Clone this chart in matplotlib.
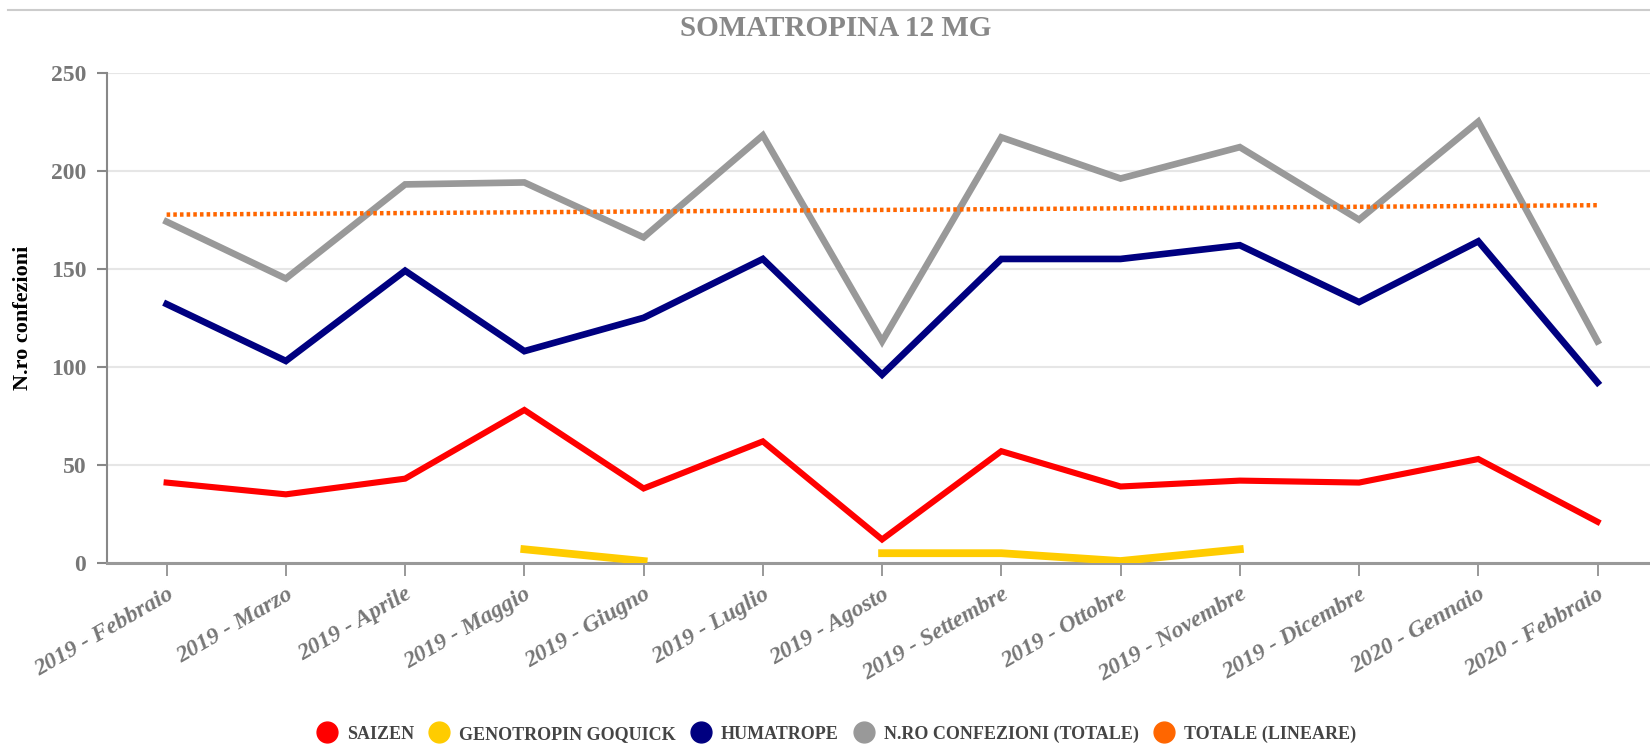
"""SOMATROPINA 12 MG: monthly packs per product, Feb 2019 - Feb 2020."""

import matplotlib

matplotlib.use("Agg")
import matplotlib.pyplot as plt
from matplotlib.lines import Line2D

months = [
    "2019 - Febbraio", "2019 - Marzo", "2019 - Aprile", "2019 - Maggio",
    "2019 - Giugno", "2019 - Luglio", "2019 - Agosto", "2019 - Settembre",
    "2019 - Ottobre", "2019 - Novembre", "2019 - Dicembre", "2020 - Gennaio",
    "2020 - Febbraio",
]
saizen = [41, 35, 43, 78, 38, 62, 12, 57, 39, 42, 41, 53, 21]
genotropin = [None, None, None, 7, 1, None, 5, 5, 1, 7, None, None, None]
humatrope = [132, 103, 149, 108, 125, 155, 96, 155, 155, 162, 133, 164, 92]
totale = [174, 145, 193, 194, 166, 218, 113, 217, 196, 212, 175, 225, 113]
# linear trendline of the total: values at first and last month
trend_x = [0, 12]
trend_y = [177.6, 182.4]

C_SAIZEN = "#ff0000"
C_GENO = "#ffcc00"
C_HUMA = "#000080"
C_TOT = "#999999"
C_TREND = "#ff6600"
TXT = "#777777"

plt.rcParams["font.family"] = ["Liberation Serif", "DejaVu Serif"]

fig = plt.figure(figsize=(16.5, 7.44), dpi=100)
ax = fig.add_axes([107 / 1650, 181 / 744, 1 - 107 / 1650, (563 - 72.6) / 744])

x = list(range(len(months)))
geno = [float("nan") if v is None else v for v in genotropin]

ax.plot(x, saizen, color=C_SAIZEN, lw=4.4, solid_joinstyle="miter", zorder=3)
ax.plot(x, geno, color=C_GENO, lw=5.6, solid_joinstyle="miter", zorder=3)
ax.plot(x, humatrope, color=C_HUMA, lw=4.8, solid_joinstyle="miter", zorder=3)
ax.plot(x, totale, color=C_TOT, lw=4.8, solid_joinstyle="miter", zorder=3)
ax.plot(trend_x, trend_y, color=C_TREND, lw=3.2, dashes=(0.8, 0.7), zorder=4)

ax.set_xlim(-0.5, 12.44)
ax.set_ylim(0, 250)
ax.set_yticks([0, 50, 100, 150, 200, 250])
ax.set_xticks(x)
ax.set_xticklabels(months, rotation=30, ha="right", va="top",
                   rotation_mode="anchor", fontsize=17, fontweight="bold",
                   fontstyle="italic", color=TXT)
for lab in ax.get_yticklabels():
    lab.set_fontsize(17)
    lab.set_fontweight("bold")
    lab.set_color(TXT)

ax.grid(axis="y", color="#e6e6e6", lw=1.5, zorder=0)
ax.set_axisbelow(True)
for s in ("top", "right"):
    ax.spines[s].set_visible(False)
ax.spines["left"].set_color("#888888")
ax.spines["left"].set_linewidth(1.5)
ax.spines["bottom"].set_color("#999999")
ax.spines["bottom"].set_linewidth(2.2)
ax.tick_params(axis="y", length=7, width=1.5, color="#888888", pad=8)
ax.tick_params(axis="x", length=9, width=1.2, color="#888888", pad=6)

ax.set_ylabel("N.ro confezioni", fontsize=16, fontweight="bold", color="black")
ax.yaxis.set_label_coords(-0.048, 0.5)

fig.text(836 / 1650, 1 - 28 / 744, "SOMATROPINA 12 MG", ha="center", va="center",
         fontsize=21, fontweight="bold", color="#888888")

# thin rule at the very top of the page
fig.add_artist(Line2D([0.005, 1.0], [1 - 9.5 / 744] * 2, color="#cccccc", lw=1.5))

labels = ["SAIZEN", "GENOTROPIN GOQUICK", "HUMATROPE",
          "N.RO CONFEZIONI (TOTALE)", "TOTALE (LINEARE)"]
colors = [C_SAIZEN, C_GENO, C_HUMA, C_TOT, C_TREND]
handles = [Line2D([], [], ls="none", marker="o", ms=15, color=c) for c in colors]
leg = fig.legend(handles, labels, loc="center", ncol=5, frameon=False,
                 bbox_to_anchor=(836 / 1650, 10 / 744), fontsize=13,
                 handletextpad=0.5, columnspacing=0.8, handlelength=1.2)
for t in leg.get_texts():
    t.set_fontweight("bold")
    t.set_color("#444444")

fig.savefig("out.png", dpi=100)
